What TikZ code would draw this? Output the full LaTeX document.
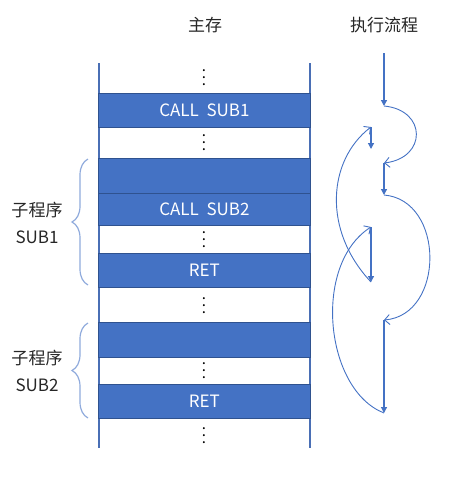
\documentclass[tikz,border=0pt]{standalone}
\usepackage{fontspec}
\setmainfont{Noto Sans CJK SC}
\usetikzlibrary{arrows.meta,decorations.pathreplacing}
\definecolor{rowblue}{HTML}{4472C4}
\definecolor{rowedge}{HTML}{2F528F}
\definecolor{linecol}{HTML}{4A6FB5}
\definecolor{bracecol}{HTML}{8FAADC}
\definecolor{flowcol}{HTML}{4472C4}
\newcommand\mydotsv{\vbox{\baselineskip=7pt\lineskiplimit=0pt\hbox{.}\hbox{.}\hbox{.}}}
\begin{document}
\begin{tikzpicture}[x=1pt,y=-1pt,
  font=\fontsize{17}{20}\selectfont,
  rowbox/.style={draw=rowedge, line width=0.8pt, fill=rowblue, text=white,
    minimum width=212pt, inner sep=0pt, anchor=north west},
  dotsnode/.style={inner sep=0pt, font=\fontsize{15}{15}\selectfont},
  memline/.style={draw=linecol, line width=1.8pt},
  bracestyle/.style={draw=bracecol, line width=1.2pt,
    decorate, decoration={brace, amplitude=16pt}},
  lbl/.style={inner sep=0pt, text=black!85},
  farrow/.style={draw=flowcol, line width=1.3pt, -{Triangle[length=6pt,width=6pt]}},
  carrow/.style={draw=flowcol, line width=0.9pt, -{Straight Barb[length=5pt,width=10pt]}}]
\useasboundingbox (0,0) rectangle (448,479);
% headers
\node[lbl] (hmem) at (205,25) {主存};
\node[lbl] (hflow) at (384,25) {执行流程};
% memory column side lines
\coordinate (lt) at (99,63);
\coordinate (lb) at (99,448);
\coordinate (rt) at (310,63);
\coordinate (rb) at (310,448);
\draw[memline] (lt) -- (lb);
\draw[memline] (rt) -- (rb);
% rows
\node[rowbox, minimum height=34pt] (call1) at (98,93) {CALL~~SUB1};
\node[rowbox, minimum height=35pt] (sub1a) at (98,158) {};
\node[rowbox, minimum height=32pt] (call2) at (98,193) {CALL~~SUB2};
\node[rowbox, minimum height=34pt] (ret1) at (98,253) {RET};
\node[rowbox, minimum height=35pt] (sub2a) at (98,322) {};
\node[rowbox, minimum height=34pt] (ret2) at (98,384) {RET};
% dots
\node[dotsnode] (d1) at (204,78) {\mydotsv};
\node[dotsnode] (d2) at (204,143) {\mydotsv};
\node[dotsnode] (d3) at (204,240) {\mydotsv};
\node[dotsnode] (d4) at (204,306) {\mydotsv};
\node[dotsnode] (d5) at (204,371) {\mydotsv};
\node[dotsnode] (d6) at (204,436) {\mydotsv};
% braces
\coordinate (b1t) at (88,159);
\coordinate (b1b) at (88,285);
\coordinate (b2t) at (88,323);
\coordinate (b2b) at (88,418);
\draw[bracestyle] (b1b) -- (b1t);
\draw[bracestyle] (b2b) -- (b2t);
\node[lbl] (l1a) at (37,210) {子程序};
\node[lbl] (l1b) at (37,237) {SUB1};
\node[lbl] (l2a) at (37,358) {子程序};
\node[lbl] (l2b) at (37,385) {SUB2};
% execution flow
\coordinate (s0) at (384,53);
\coordinate (a1) at (384,106);
\coordinate (e1) at (384,163);
\coordinate (a2) at (384,195);
\coordinate (e2) at (384,320);
\coordinate (a3) at (384,413);
\coordinate (c3) at (371,227);
\coordinate (a4) at (371,282);
\coordinate (c4) at (371,127);
\coordinate (a5) at (371,149);
\draw[farrow] (s0) -- (a1);
\draw[carrow] (a1) .. controls (427,110) and (427,158) .. (e1);
\draw[farrow] (e1) -- (a2);
\draw[carrow] (a2) .. controls (445,200) and (445,315) .. (e2);
\draw[farrow] (e2) -- (a3);
\draw[carrow] (a3) .. controls (325,390) and (312,265) .. (c3);
\draw[farrow] (c3) -- (a4);
\draw[carrow] (a4) .. controls (322,230) and (328,160) .. (c4);
\draw[farrow] (c4) -- (a5);
\end{tikzpicture}
\end{document}
